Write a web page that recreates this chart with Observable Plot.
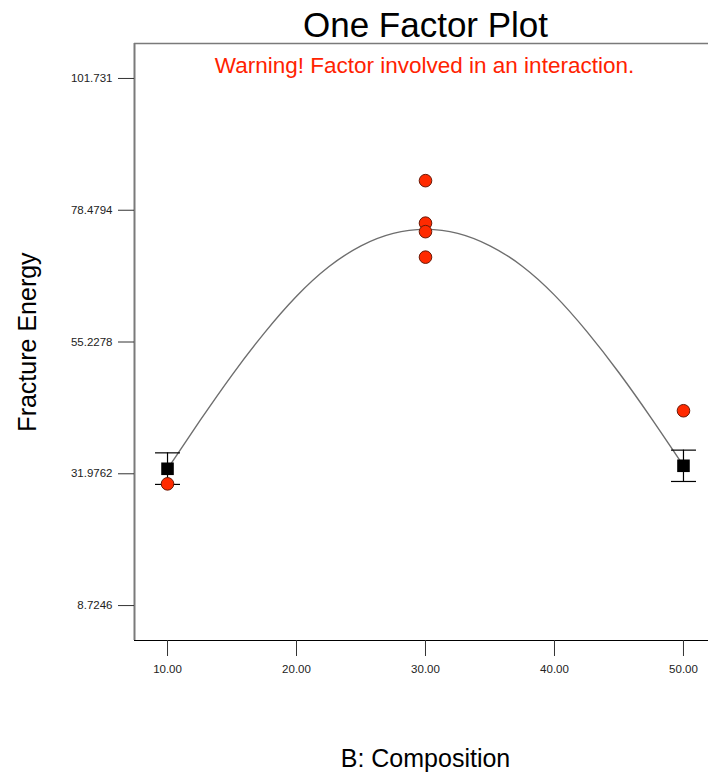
<!DOCTYPE html>
<html>
<head>
<meta charset="utf-8">
<script src="https://cdn.jsdelivr.net/npm/d3@7"></script>
<script src="https://cdn.jsdelivr.net/npm/@observablehq/plot@0.6"></script>
<style>
  html, body { margin: 0; padding: 0; background: #fff; }
  #chart svg { display: block; }
</style>
</head>
<body>
<div id="chart"></div>
<script>
// Texts
const titleText = "One Factor Plot";
const warningText = "Warning! Factor involved in an interaction.";
const xLabel = "B: Composition";
const yLabel = "Fracture Energy";

// Axis ticks and their labels
const xTicks = [10, 20, 30, 40, 50];
const xTickLabels = ["10.00", "20.00", "30.00", "40.00", "50.00"];
const yTicks = [8.7246, 31.9762, 55.2278, 78.4794, 101.731];
const yTickLabels = ["8.7246", "31.9762", "55.2278", "78.4794", "101.731"];

// Scale extents
const xDomain = [7.44, 51.94];
const yDomain = [2.56, 107.9];

// Observed design points (B: Composition, Fracture Energy)
const obsX = [10, 30, 30, 30, 30, 50];
const obsY = [30.2, 83.7, 76.2, 74.7, 70.2, 43.1];

// Predicted means at the factor extremes, with LSD bars
const predX = [10, 50];
const predY = [32.86, 33.39];
const predLo = [30.1, 30.62];
const predHi = [35.67, 36.15];

// Model prediction line
const curveX = [10, 12.5, 15, 17.5, 20, 22.5, 25, 27.5, 30, 32.5, 35, 37.5, 40, 42.5, 45, 47.5, 50];
const curveY = [32.86, 41.3, 49.4, 56.8, 63.3, 68.5, 72.2, 74.4, 75.1, 74.4, 72.2, 68.6, 63.5, 57.1, 49.8, 41.8, 33.39];

const observed = obsX.map((x, i) => ({x, y: obsY[i]}));
const predicted = predX.map((x, i) => ({x, y: predY[i], lo: predLo[i], hi: predHi[i]}));
const curve = curveX.map((x, i) => ({x, y: curveY[i]}));

// Horizontal cap for the error bars
const capSymbol = {
  draw(context) {
    context.moveTo(-12.5, 0);
    context.lineTo(12.5, 0);
  }
};

const font = "'Liberation Sans', Arial, Helvetica, sans-serif";

const chart = Plot.plot({
  width: 708,
  height: 773,
  marginTop: 43,
  marginRight: 0,
  marginBottom: 133,
  marginLeft: 134,
  style: {fontFamily: font, fontSize: "11.5px", color: "#222", background: "#fff"},
  x: {domain: xDomain},
  y: {domain: yDomain},
  marks: [
    // plot borders
    Plot.ruleY([yDomain[1]], {stroke: "#7a7a7a", strokeWidth: 1.5}),
    Plot.ruleY([yDomain[0]], {stroke: "#000", strokeWidth: 1.2}),
    Plot.ruleX([xDomain[0]], {stroke: "#7a7a7a", strokeWidth: 2}),
    Plot.axisY({
      ticks: yTicks,
      tickFormat: (d, i) => yTickLabels[i],
      tickSize: 16,
      tickPadding: 6,
      stroke: "#333",
      label: null
    }),
    Plot.axisX({
      ticks: xTicks,
      tickFormat: (d, i) => xTickLabels[i],
      tickSize: 16,
      tickPadding: 8,
      stroke: "#333",
      label: null
    }),
    // prediction line
    Plot.line(curve, {x: "x", y: "y", curve: "natural", stroke: "#6e6e6e", strokeWidth: 1.4}),
    // error bars
    Plot.ruleX(predicted, {x: "x", y1: "lo", y2: "hi", stroke: "#000", strokeWidth: 1.2}),
    Plot.dot(predicted, {x: "x", y: "hi", symbol: capSymbol, r: 5, stroke: "#000", strokeWidth: 1.2, fill: "none"}),
    Plot.dot(predicted, {x: "x", y: "lo", symbol: capSymbol, r: 5, stroke: "#000", strokeWidth: 1.2, fill: "none"}),
    Plot.dot(predicted, {x: "x", y: "y", symbol: "square", r: 7.1, fill: "#000", stroke: "none"}),
    // observed runs
    Plot.dot(observed, {x: "x", y: "y", r: 6.3, fill: "#ff2a00", stroke: "#6a1a08", strokeWidth: 1}),
    // titles and labels
    Plot.text([titleText], {frameAnchor: "top", lineAnchor: "bottom", dy: -7, dx: 4, fontSize: 35, fill: "#000", fontFamily: font}),
    Plot.text([warningText], {frameAnchor: "top", lineAnchor: "bottom", dy: 29, dx: 3, fontSize: 22.5, fill: "#ff2200", fontFamily: font}),
    Plot.text([xLabel], {frameAnchor: "bottom", lineAnchor: "bottom", dy: 126, dx: 4, fontSize: 25, fill: "#000", fontFamily: font}),
    Plot.text([yLabel], {frameAnchor: "left", textAnchor: "middle", lineAnchor: "bottom", rotate: -90, dx: -99, fontSize: 25, fill: "#000", fontFamily: font})
  ]
});

document.getElementById("chart").appendChild(chart);
</script>
</body>
</html>
